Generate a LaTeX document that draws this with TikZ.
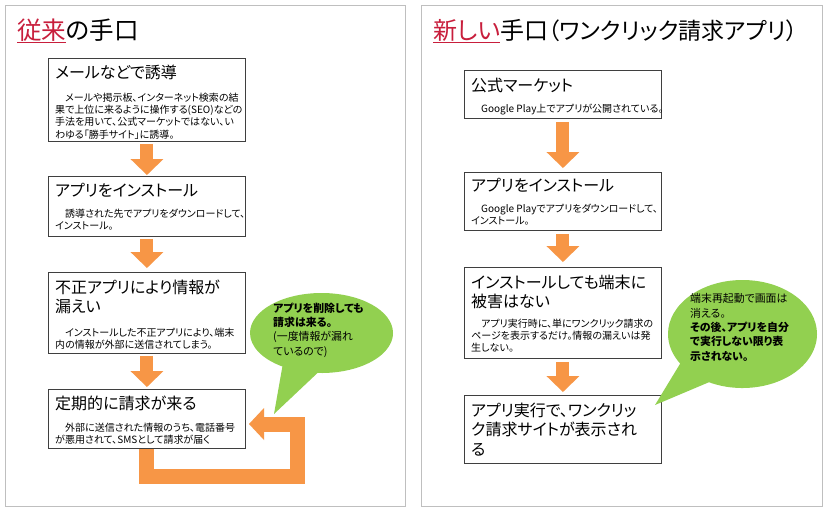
\documentclass[tikz,border=0pt]{standalone}
\usepackage{fontspec}
\setmainfont{Noto Sans CJK JP}[RawFeature=+palt]
\usepackage{xcolor}
\usepackage{tikz}
\usetikzlibrary{arrows.meta, shapes.callouts, positioning}

\definecolor{flowor}{HTML}{F79646}
\definecolor{bubblegreen}{HTML}{92D050}
\definecolor{titlered}{HTML}{C81E3C}
\definecolor{framegray}{HTML}{BFBFBF}
\definecolor{boxgray}{HTML}{3F3F3F}

\begin{document}
\begin{tikzpicture}[x=1pt, y=-1pt,
    panel/.style={draw=framegray, line width=1pt},
    stepbox/.style={draw=boxgray, line width=0.9pt, fill=white, anchor=north west,
        minimum width=197pt, inner sep=0pt},
    boxtitle/.style={anchor=north west, inner sep=0pt, align=left,
        font=\fontsize{16}{19.5}\selectfont},
    boxbody/.style={anchor=north west, inner sep=0pt, align=left,
        font=\fontsize{10}{12.3}\selectfont},
    flowarrow/.style={draw=flowor, line width=13pt,
        -{Triangle[width=33pt, length=16pt, line width=0pt]}},
    bubble/.style={ellipse callout, fill=bubblegreen, inner sep=0pt, callout pointer arc=30},
    bubbletext/.style={anchor=north west, inner sep=0pt, align=left,
        font=\fontsize{10.9}{14.3}\selectfont}]

        % 背景と二つの枠
        \fill[white] (0,0) rectangle (826,512);
        \useasboundingbox (0,0) rectangle (826,512);
        \draw[panel] (5,5) rectangle (405,506);
        \draw[panel] (421,5) rectangle (822,506);

        % 見出し
        \node[anchor=base west, inner sep=0pt, font=\fontsize{24.5}{28}\selectfont] (oldtitle)
            at (17,39) {\textcolor{titlered}{\underline{従来}}の手口};
        \node[anchor=base west, inner sep=0pt, font=\fontsize{24}{28}\selectfont] (newtitle)
            at (433,39) {\textcolor{titlered}{\underline{新しい}}手口{\fontsize{23}{28}\selectfont（ワンクリック請求アプリ）}};

        % 左側の箱（従来の手口）
        \node[stepbox, minimum height=83pt] (L1) at (48,58) {};
        \node[stepbox, minimum height=60pt] (L2) at (48,176) {};
        \node[stepbox, minimum height=81pt] (L3) at (48,272) {};
        \node[stepbox, minimum height=59pt] (L4) at (48,389) {};

        \node[boxtitle] (L1t) at ([shift={(7,6.5)}]L1.north west) {メールなどで誘導};
        \node[boxbody] (L1b) at ([shift={(7,34.5)}]L1.north west)
            {　メールや掲示板、インターネット検索の結\\果で上位に来るように操作する(SEO)などの\\手法を用いて、公式マーケットではない、い\\わゆる「勝手サイト」に誘導。};
        \node[boxtitle] (L2t) at ([shift={(7,6.5)}]L2.north west) {アプリをインストール};
        \node[boxbody] (L2b) at ([shift={(7,32.5)}]L2.north west)
            {　誘導された先でアプリをダウンロードして、\\インストール。};
        \node[boxtitle] (L3t) at ([shift={(7,7.5)}]L3.north west) {不正アプリにより情報が\\漏えい};
        \node[boxbody] (L3b) at ([shift={(7,55.5)}]L3.north west)
            {　インストールした不正アプリにより、端末\\内の情報が外部に送信されてしまう。};
        \node[boxtitle] (L4t) at ([shift={(7,6.5)}]L4.north west) {定期的に請求が来る};
        \node[boxbody] (L4b) at ([shift={(7,33.5)}]L4.north west)
            {　外部に送信された情報のうち、電話番号\\が悪用されて、SMSとして請求が届く};

        % 右側の箱（新しい手口）
        \node[stepbox, minimum height=48pt] (R1) at (464,70) {};
        \node[stepbox, minimum height=58pt] (R2) at (464,172) {};
        \node[stepbox, minimum height=91pt] (R3) at (464,267) {};
        \node[stepbox, minimum height=68pt] (R4) at (464,395) {};

        \node[boxtitle] (R1t) at ([shift={(7,7.5)}]R1.north west) {公式マーケット};
        \node[boxbody] (R1b) at ([shift={(7,33.5)}]R1.north west)
            {　Google Play上でアプリが公開されている。};
        \node[boxtitle] (R2t) at ([shift={(7,5.5)}]R2.north west) {アプリをインストール};
        \node[boxbody] (R2b) at ([shift={(7,31.5)}]R2.north west)
            {　Google Playでアプリをダウンロードして、\\インストール。};
        \node[boxtitle] (R3t) at ([shift={(7,7.5)}]R3.north west) {インストールしても端末に\\被害はない};
        \node[boxbody] (R3b) at ([shift={(7,51.5)}]R3.north west)
            {　アプリ実行時に、単にワンクリック請求の\\ページを表示するだけ。情報の漏えいは発\\生しない。};
        \node[boxtitle] (R4t) at ([shift={(7,7.5)}]R4.north west)
            {アプリ実行で、ワンクリッ\\ク請求サイトが表示され\\る};

        % 下向きの矢印
        \draw[flowarrow] ([yshift=-2pt]L1.south) -- ([yshift=1pt]L2.north);
        \draw[flowarrow] ([yshift=-2pt]L2.south) -- ([yshift=4pt]L3.north);
        \draw[flowarrow] ([yshift=-2pt]L3.south) -- ([yshift=2pt]L4.north);
        \draw[flowarrow] ([yshift=-3pt]R1.south) -- ([yshift=4pt]R2.north);
        \draw[flowarrow] ([yshift=-3pt]R2.south) -- ([yshift=5pt]R3.north);
        \draw[flowarrow] ([yshift=-3pt]R3.south) -- ([yshift=3pt]R4.north);

        % 戻ってくる矢印（請求が何度も来る）
        \coordinate (ubr) at (297,476);
        \coordinate (utr) at (297,424);
        \coordinate (utip) at (249,424);
        \draw[flowarrow, line width=15pt, line join=miter,
            -{Triangle[width=32pt, length=15pt, line width=0pt]}]
            (L4.south) |- (ubr) -- (utr) -- (utip);

        % 吹き出し
        \coordinate (ltip) at (274,414);
        \node[bubble, minimum width=143pt, minimum height=80pt,
            callout absolute pointer={(ltip)}] (lbub) at (321.5,333) {};
        \node[bubbletext] (lbubt) at (273,302.5)
            {\textbf{アプリを削除しても}\\\textbf{請求は来る。}\\(一度情報が漏れ\\ているので)};

        \coordinate (rtip) at (655,405);
        \node[bubble, minimum width=149pt, minimum height=108pt,
            callout absolute pointer={(rtip)}] (rbub) at (742.5,334) {};
        \node[bubbletext] (rbubt) at (690,293.5)
            {端末再起動で画面は\\消える。\\\textbf{その後、アプリを自分}\\\textbf{で実行しない限り表}\\\textbf{示されない。}};

    \end{tikzpicture}
\end{document}
